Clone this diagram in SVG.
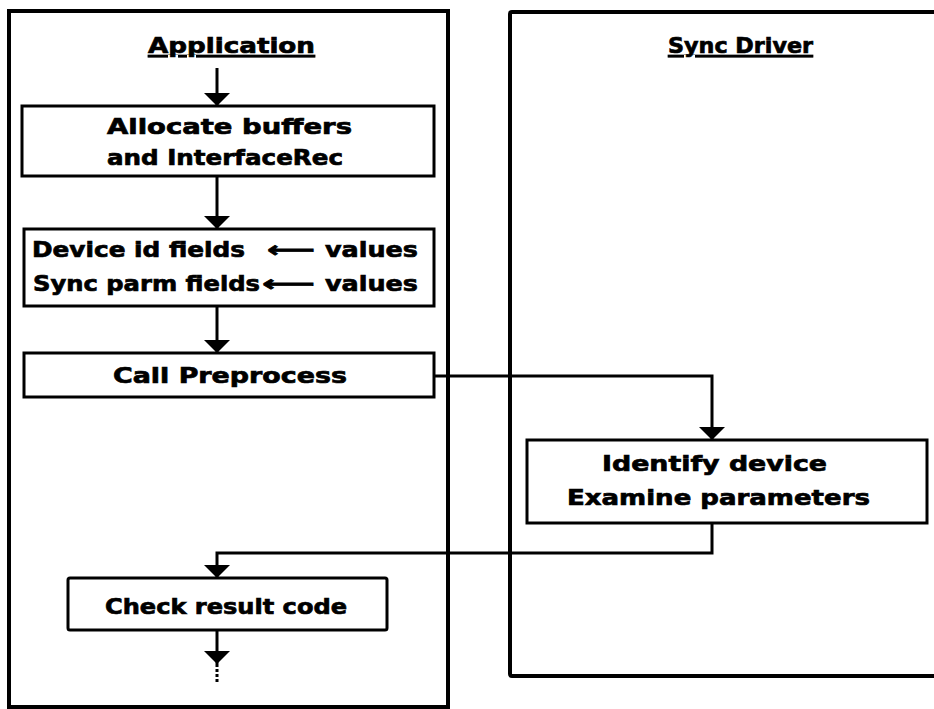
<svg xmlns="http://www.w3.org/2000/svg" width="934" height="709" viewBox="0 0 934 709">
  <style>
    .panel { fill: #fff; stroke: #000; stroke-width: 4; }
    .box { fill: #fff; stroke: #000; stroke-width: 3; }
    .wire { fill: none; stroke: #000; stroke-width: 3; }
    .lbl { font-family: "DejaVu Sans", "Liberation Sans", sans-serif; font-weight: bold; font-size: 22px; fill: #000; stroke: #000; stroke-width: 0.7; }
    .title { text-decoration: underline; text-decoration-thickness: 3px; }
  </style>
  <defs>
    <marker id="head" viewBox="0 0 13 26" refX="13" refY="13" markerWidth="13" markerHeight="26" markerUnits="userSpaceOnUse" orient="auto">
      <path d="M0,0 L13,13 L0,26 Z" fill="#000"/>
    </marker>
  </defs>
  <rect width="934" height="709" fill="#fff"/>

  <!-- swimlanes -->
  <g id="lane-application">
    <rect class="panel" x="9" y="11" width="439" height="696"/>
    <text class="lbl title" x="148" y="53" textLength="167" lengthAdjust="spacingAndGlyphs">Application</text>
  </g>
  <g id="lane-sync-driver">
    <rect class="panel" x="510" y="12" width="440" height="664" rx="2"/>
    <text class="lbl title" x="668" y="53" textLength="145" lengthAdjust="spacingAndGlyphs">Sync Driver</text>
  </g>

  <!-- steps -->
  <g id="allocate">
    <rect class="box" x="22" y="106" width="412" height="70"/>
    <text class="lbl" x="107" y="134" textLength="245" lengthAdjust="spacingAndGlyphs">Allocate buffers</text>
    <text class="lbl" x="107" y="165" textLength="236" lengthAdjust="spacingAndGlyphs">and InterfaceRec</text>
  </g>
  <g id="fields">
    <rect class="box" x="24" y="229" width="410" height="77"/>
    <text class="lbl" x="32" y="257" textLength="213" lengthAdjust="spacingAndGlyphs">Device id fields</text>
    <text class="lbl" x="267" y="257" textLength="48" lengthAdjust="spacingAndGlyphs">⟵</text>
    <text class="lbl" x="325" y="257" textLength="93" lengthAdjust="spacingAndGlyphs">values</text>
    <text class="lbl" x="33" y="291" textLength="227" lengthAdjust="spacingAndGlyphs">Sync parm fields</text>
    <text class="lbl" x="262" y="291" textLength="53" lengthAdjust="spacingAndGlyphs">⟵</text>
    <text class="lbl" x="325" y="291" textLength="93" lengthAdjust="spacingAndGlyphs">values</text>
  </g>
  <g id="preprocess">
    <rect class="box" x="24" y="353" width="410" height="44"/>
    <text class="lbl" x="113" y="383" textLength="234" lengthAdjust="spacingAndGlyphs">Call Preprocess</text>
  </g>
  <g id="identify">
    <rect class="box" x="527" y="440" width="400" height="83"/>
    <text class="lbl" x="602" y="471" textLength="225" lengthAdjust="spacingAndGlyphs">Identify device</text>
    <text class="lbl" x="567" y="505" textLength="303" lengthAdjust="spacingAndGlyphs">Examine parameters</text>
  </g>
  <g id="check">
    <rect class="box" x="68" y="578" width="319" height="52" rx="2"/>
    <text class="lbl" x="105" y="614" textLength="242" lengthAdjust="spacingAndGlyphs">Check result code</text>
  </g>

  <!-- connectors -->
  <g id="connectors">
    <path class="wire" d="M217,68 V106" marker-end="url(#head)"/>
    <path class="wire" d="M217,176 V229" marker-end="url(#head)"/>
    <path class="wire" d="M217,306 V353" marker-end="url(#head)"/>
    <path class="wire" d="M434,376 H712 V440" marker-end="url(#head)"/>
    <path class="wire" d="M712,523 V553 H217 V578" marker-end="url(#head)"/>
    <path class="wire" d="M217,630 V664" marker-end="url(#head)"/>
    <path class="wire" d="M217,664 V684" stroke-dasharray="3 2"/>
  </g>
</svg>
